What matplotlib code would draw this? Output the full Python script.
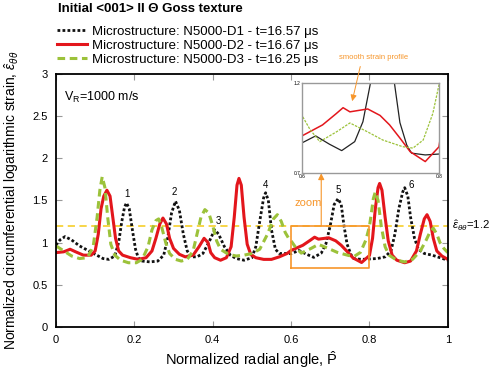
import matplotlib
matplotlib.use("Agg")
import matplotlib.pyplot as plt
import numpy as np

plt.rcParams["font.family"] = ["Liberation Sans", "DejaVu Sans"]
plt.rcParams["mathtext.fontset"] = "custom"
plt.rcParams["mathtext.rm"] = "Liberation Sans"
plt.rcParams["mathtext.it"] = "Liberation Sans:italic"

# N5000-D1, t=16.57 us
d1_x = [0.00, 0.01, 0.023, 0.04, 0.06, 0.08, 0.10, 0.12, 0.135, 0.15, 0.16, 0.168,
        0.175, 0.18, 0.187, 0.195, 0.203, 0.21, 0.22, 0.24, 0.26, 0.275, 0.285,
        0.295, 0.305, 0.315, 0.325, 0.335, 0.345, 0.36, 0.375, 0.39, 0.405, 0.415,
        0.43, 0.445, 0.46, 0.48, 0.50, 0.51, 0.52, 0.53, 0.535, 0.542, 0.55, 0.56,
        0.57, 0.59, 0.60, 0.62, 0.64, 0.658, 0.677, 0.689, 0.70, 0.71, 0.72, 0.728,
        0.735, 0.743, 0.753, 0.76, 0.78, 0.80, 0.82, 0.84, 0.855, 0.865, 0.875,
        0.885, 0.89, 0.898, 0.905, 0.915, 0.925, 0.94, 0.96, 0.98, 1.00]
d1_y = [0.97, 1.03, 1.07, 1.03, 0.96, 0.91, 0.86, 0.81, 0.80, 0.84, 1.00, 1.25,
        1.42, 1.47, 1.40, 1.15, 0.92, 0.82, 0.78, 0.77, 0.78, 0.85, 1.05,
        1.35, 1.49, 1.38, 1.10, 0.90, 0.83, 0.83, 0.87, 1.00, 1.15, 1.10,
        0.95, 0.85, 0.81, 0.79, 0.82, 0.95, 1.25, 1.53, 1.59, 1.50, 1.15, 0.92,
        0.87, 0.87, 0.867, 0.906, 0.86, 0.824, 0.874, 0.985, 1.20, 1.45, 1.52, 1.45,
        1.20, 0.98, 0.855, 0.81, 0.80, 0.805, 0.81, 0.83, 0.90, 1.10, 1.40,
        1.60, 1.65, 1.55, 1.30, 1.05, 0.92, 0.87, 0.85, 0.82, 0.79]

# N5000-D2, t=16.67 us
d2_x = [0.00, 0.02, 0.036, 0.05, 0.07, 0.09, 0.10, 0.108, 0.115, 0.122, 0.13, 0.138,
        0.145, 0.152, 0.16, 0.17, 0.19, 0.21, 0.23, 0.245, 0.255, 0.265, 0.273,
        0.282, 0.29, 0.30, 0.315, 0.33, 0.35, 0.365, 0.378, 0.388, 0.395, 0.405,
        0.42, 0.435, 0.447, 0.455, 0.462, 0.467, 0.473, 0.48, 0.488, 0.497, 0.51,
        0.53, 0.55, 0.57, 0.59, 0.60, 0.63, 0.65, 0.66, 0.67, 0.696, 0.714, 0.728,
        0.743, 0.758, 0.78, 0.80, 0.808, 0.815, 0.822, 0.826, 0.832, 0.84, 0.848,
        0.858, 0.87, 0.89, 0.905, 0.92, 0.93, 0.94, 0.947, 0.955, 0.963, 0.972,
        0.985, 1.00]
d2_y = [0.88, 0.89, 0.92, 0.89, 0.85, 0.85, 0.90, 1.10, 1.40, 1.55, 1.62, 1.55,
        1.30, 1.05, 0.90, 0.85, 0.82, 0.80, 0.82, 0.90, 1.05, 1.22, 1.29,
        1.22, 1.05, 0.93, 0.86, 0.83, 0.85, 0.95, 1.05, 1.00, 0.88, 0.82,
        0.79, 0.82, 0.95, 1.30, 1.68, 1.76, 1.68, 1.30, 0.98, 0.86, 0.82,
        0.80, 0.80, 0.83, 0.87, 0.906, 0.967, 1.03, 1.063, 1.04, 1.056, 1.02, 0.967,
        0.894, 0.818, 0.763, 0.845, 1.05, 1.40, 1.65, 1.70, 1.62, 1.30, 1.02,
        0.85, 0.79, 0.76, 0.78, 0.90, 1.10, 1.28, 1.33, 1.25, 1.05, 0.90,
        0.84, 0.80]

# N5000-D3, t=16.25 us
d3_x = [0.00, 0.02, 0.04, 0.06, 0.08, 0.095, 0.105, 0.112, 0.118, 0.125, 0.132, 0.14,
        0.15, 0.165, 0.185, 0.205, 0.22, 0.235, 0.245, 0.255, 0.262, 0.27, 0.28,
        0.29, 0.305, 0.32, 0.335, 0.35, 0.36, 0.37, 0.38, 0.39, 0.40, 0.41, 0.42,
        0.44, 0.46, 0.48, 0.50, 0.52, 0.54, 0.555, 0.565, 0.575, 0.585, 0.595, 0.60,
        0.612, 0.626, 0.651, 0.67, 0.695, 0.718, 0.747, 0.762, 0.777, 0.791, 0.80,
        0.805, 0.81, 0.815, 0.822, 0.83, 0.84, 0.85, 0.87, 0.89, 0.91, 0.93, 0.945,
        0.955, 0.963, 0.972, 0.98, 0.99, 1.00]
d3_y = [0.96, 0.90, 0.84, 0.81, 0.82, 0.95, 1.30, 1.62, 1.78, 1.65, 1.30, 0.98,
        0.85, 0.79, 0.76, 0.76, 0.80, 0.95, 1.15, 1.26, 1.28, 1.18, 1.00,
        0.87, 0.80, 0.78, 0.80, 0.90, 1.10, 1.30, 1.39, 1.35, 1.20, 1.02, 0.92,
        0.86, 0.84, 0.85, 0.87, 0.92, 1.10, 1.28, 1.33, 1.25, 1.12, 1.04, 1.02,
        0.94, 0.874, 0.93, 0.978, 0.93, 0.883, 0.846, 0.838, 0.883, 1.03, 1.19,
        1.35, 1.52, 1.60, 1.50, 1.20, 0.95, 0.85, 0.79, 0.77, 0.80, 0.90, 1.03,
        1.13, 1.17, 1.10, 1.00, 0.93, 0.88]

labels = ["Microstructure: N5000-D1 - t=16.57 \u03bcs",
          "Microstructure: N5000-D2 - t=16.67 \u03bcs",
          "Microstructure: N5000-D3 - t=16.25 \u03bcs"]

# peak numbers
peak_x = [0.18, 0.303, 0.414, 0.535, 0.72, 0.907]
peak_y = [1.58, 1.60, 1.26, 1.68, 1.62, 1.68]
peak_lbl = ["1", "2", "3", "4", "5", "6"]

threshold = 1.2
zoom_box = (0.6, 0.8, 0.7, 1.2)

BLACK = "#111111"
RED = "#e3161c"
GREEN = "#9cc23a"
YELLOW = "#f7d23a"
ORANGE = "#f7962b"

fig = plt.figure(figsize=(4.91, 3.71), dpi=100)
ax = fig.add_axes([0.114, 0.119, 0.798, 0.682])

ax.plot(d1_x, d1_y, color=BLACK, lw=2.0, ls=(0, (1, 0.8)), label=labels[0])
ax.plot(d2_x, d2_y, color=RED, lw=2.2, ls="-", label=labels[1])
ax.plot(d3_x, d3_y, color=GREEN, lw=2.2, ls=(0, (2.5, 1.5)), label=labels[2])
ax.axhline(threshold, color=YELLOW, lw=1.3, ls=(0, (4, 2.5)), zorder=0.5)

x0, x1, y0, y1 = zoom_box
ax.plot([x0, x1, x1, x0, x0], [y0, y0, y1, y1, y0], color=ORANGE, lw=1.2)

for px, py, t in zip(peak_x, peak_y, peak_lbl):
    ax.text(px, py, t, fontsize=7, ha="center", va="center")

ax.text(0.02, 2.72, r"V$_\mathrm{R}$=1000 m/s", fontsize=9, ha="left", va="center")
ax.text(1.012, threshold, r"$\hat{\varepsilon}_{\theta\theta}$=1.2", fontsize=8.2,
        ha="left", va="center", clip_on=False)

ax.annotate("", xy=(0.677, 1.82), xytext=(0.677, 1.2),
            arrowprops=dict(arrowstyle="-|>", color=ORANGE, lw=0.8,
                            mutation_scale=9, shrinkA=0, shrinkB=0))
ax.text(0.61, 1.47, "zoom", color=ORANGE, fontsize=8, ha="left", va="center")

ax.set_xlim(0, 1)
ax.set_ylim(0, 3)
ax.set_xticks([0, 0.2, 0.4, 0.6, 0.8, 1])
ax.set_xticklabels(["0", "0.2", "0.4", "0.6", "0.8", "1"])
ax.set_yticks([0, 0.5, 1, 1.5, 2, 2.5, 3])
ax.set_yticklabels(["0", "0.5", "1", "1.5", "2", "2.5", "3"])
ax.tick_params(direction="in", top=True, right=True, length=4, width=0.8,
               color="#999999", labelsize=8, pad=6)
for s in ax.spines.values():
    s.set_linewidth(1.3)
ax.set_xlabel(r"Normalized radial angle, $\hat{\mathrm{P}}$", fontsize=10.5, labelpad=3)
ax.set_ylabel(r"Normalized circumferential logarithmic strain, $\hat{\varepsilon}_{\theta\theta}$",
              fontsize=10, labelpad=8)

# legend above the axes
fig.legend(loc="upper left", bbox_to_anchor=(0.105, 0.945), frameon=False,
           fontsize=9.5, handlelength=2.3, handletextpad=0.4, labelspacing=0.12,
           borderaxespad=0)
fig.text(0.118, 0.975, "Initial <001> II \u0398 Goss texture", fontsize=9.5,
         weight="bold", ha="left", va="center")

# inset
ins = fig.add_axes([0.615, 0.534, 0.279, 0.242])
ins.plot(d1_x, d1_y, color="#222222", lw=0.9)
ins.plot(d2_x, d2_y, color=RED, lw=1.1)
ins.plot(d3_x, d3_y, color=GREEN, lw=0.9, ls=(0, (2, 1)))
ins.set_xlim(x0, x1)
ins.set_ylim(y0, y1)
ins.set_xticks([x0, x1])
ins.set_xticklabels(["0.6", "0.8"])
ins.set_yticks([y0, y1])
ins.set_yticklabels(["0.7", "1.2"])
ins.tick_params(length=0, labelsize=3.5, pad=1)
for s in ins.spines.values():
    s.set_color("#999999")
    s.set_linewidth(1.0)

fig.text(0.760, 0.844, "smooth strain profile", color=ORANGE, fontsize=5.5,
         ha="center", va="center")
fig.add_artist(matplotlib.patches.FancyArrowPatch(
    (0.735, 0.828), (0.716, 0.72), transform=fig.transFigure,
    arrowstyle="-|>", mutation_scale=9, color=ORANGE, lw=0.7))

fig.savefig("out.png", dpi=100)
